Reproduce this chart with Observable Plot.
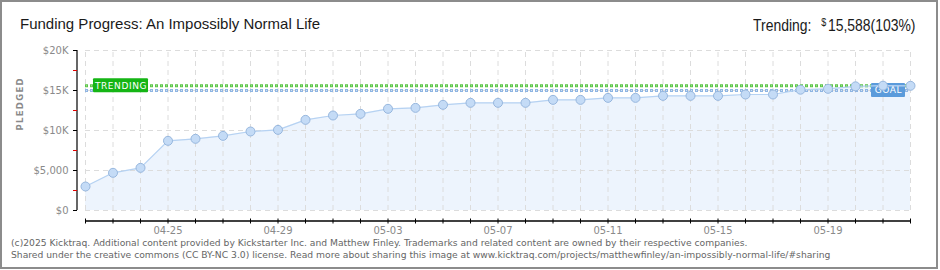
<!DOCTYPE html>
<html><head><meta charset="utf-8">
<script src="https://cdn.jsdelivr.net/npm/d3@7"></script>
<script src="https://cdn.jsdelivr.net/npm/@observablehq/plot@0.6"></script>
<style>
html,body{margin:0;padding:0;background:#fff;}
#wrap{position:relative;width:940px;height:270px;overflow:hidden;background:#fff;}
#border{position:absolute;left:0;top:0;width:938px;height:269px;border:2px solid #8c8c8c;box-sizing:border-box;pointer-events:none;}
#title{position:absolute;left:20px;top:14px;font-family:"Liberation Sans";font-size:15px;line-height:20px;color:#1a1a1a;white-space:nowrap;}
#trend{position:absolute;left:753px;top:12px;font-family:"Liberation Sans";font-size:17px;line-height:20px;color:#1a1a1a;white-space:nowrap;transform:scaleX(0.82);transform-origin:0 0;}
#trend .cur{font-size:11px;vertical-align:5px;margin-left:12px;margin-right:2px;}
#footer{position:absolute;left:11px;top:237px;font-family:"DejaVu Sans";font-size:9.2px;line-height:12px;color:#666;white-space:nowrap;}
#chart{position:absolute;left:0;top:0;}
</style></head>
<body>
<div id="wrap">
  <div id="chart"></div>
  <div id="title">Funding Progress: An Impossibly Normal Life</div>
  <div id="trend">Trending:<span class="cur">$</span>15,588(103%)</div>
  <div id="footer">(c)2025 Kicktraq. Additional content provided by Kickstarter Inc. and Matthew Finley. Trademarks and related content are owned by their respective companies.<br>Shared under the creative commons (CC BY-NC 3.0) license. Read more about sharing this image at www.kicktraq.com/projects/matthewfinley/an-impossibly-normal-life/#sharing</div>
  <div id="border"></div>
</div>
<script>
const dates = ["2025-04-22","2025-04-23","2025-04-24","2025-04-25","2025-04-26","2025-04-27","2025-04-28","2025-04-29","2025-04-30",
  "2025-05-01","2025-05-02","2025-05-03","2025-05-04","2025-05-05","2025-05-06","2025-05-07","2025-05-08","2025-05-09","2025-05-10",
  "2025-05-11","2025-05-12","2025-05-13","2025-05-14","2025-05-15","2025-05-16","2025-05-17","2025-05-18","2025-05-19","2025-05-20",
  "2025-05-21","2025-05-22"];
const pledged = [3000, 4710, 5330, 8710, 8960, 9330, 9875, 10080, 11330, 11875, 12080, 12710, 12830, 13210, 13460, 13460,
  13460, 13830, 13830, 14080, 14080, 14330, 14330, 14330, 14500, 14500, 15100, 15210, 15520, 15600, 15588];
const goal = 15000;
const trending = 15588;
const yTicks = [0, 5000, 10000, 15000, 20000];
const yTickLabels = ["$0", "$5,000", "$10K", "$15K", "$20K"];
const yMinorTicks = [2500, 7500, 12500, 17500];
const xTickLabels = ["04-25", "04-29", "05-03", "05-07", "05-11", "05-15", "05-19"];

const data = dates.map((d, i) => ({date: new Date(d), value: pledged[i]}));
const dayDates = data.map(d => d.date);
const first = dayDates[0], last = dayDates[dayDates.length - 1];
const fmt = d3.utcFormat("%m-%d");

const plot = Plot.plot({
  width: 940, height: 270,
  marginLeft: 85, marginRight: 30, marginTop: 50, marginBottom: 60,
  x: {type: "utc", domain: [first, last]},
  y: {domain: [0, 20000]},
  style: {fontFamily: "DejaVu Sans", fontSize: "10px", color: "#8a8a8a", background: "transparent", overflow: "visible"},
  marks: [
    Plot.areaY(data, {x: "date", y: "value", fill: "#edf4fd"}),
    Plot.ruleX(dayDates, {y1: 0, y2: 20000, stroke: "#dcdcdc", strokeDasharray: "5,4"}),
    Plot.ruleY(yTicks, {x1: first, x2: last, stroke: "#dcdcdc", strokeDasharray: "5,4"}),
    Plot.ruleY([goal], {x1: first, x2: last, stroke: "#8fb5e2", strokeWidth: 3, strokeDasharray: "3,2"}),
    Plot.ruleY([goal], {x1: first, x2: last, stroke: "#cfe0f5", strokeWidth: 1, strokeDasharray: "1,4", strokeDashoffset: -1}),
    Plot.ruleY([trending], {x1: first, x2: last, stroke: "#5cc548", strokeWidth: 3, strokeDasharray: "3,2"}),
    Plot.ruleY([trending], {x1: first, x2: last, stroke: "#a9e69c", strokeWidth: 1, strokeDasharray: "1,4", strokeDashoffset: -1}),
    Plot.rect([trending], {x1: () => first, x2: () => first, y1: d => d, y2: d => d,
      insetLeft: 8, insetRight: -63, insetTop: -7, insetBottom: -7, fill: "#15b515", rx: 1}),
    Plot.text([trending], {x: () => first, y: d => d, text: () => "TRENDING", dx: 35.5, fill: "#fff",
      fontSize: 9, fontFamily: "DejaVu Sans", className: "lbl"}),
    Plot.rect([goal], {x1: () => last, x2: () => last, y1: d => d, y2: d => d,
      insetLeft: -39, insetRight: 5, insetTop: -7, insetBottom: -7, fill: "#5b9bdb", rx: 1}),
    Plot.text([goal], {x: () => last, y: d => d, text: () => "GOAL", dx: -22, fill: "#fff",
      fontSize: 9, fontFamily: "DejaVu Sans", className: "lbl"}),
    Plot.line(data, {x: "date", y: "value", stroke: "#b6d2f2", strokeWidth: 1.2}),
    Plot.dot(data, {x: "date", y: "value", r: 4.5, fill: "#c4dbf6", stroke: "#97b7de", strokeWidth: 1}),
    Plot.ruleX([first], {y1: 0, y2: 20000, dx: -8.5, stroke: "#000", strokeWidth: 1.2}),
    Plot.axisY({ticks: yTicks, tickSize: 4, tickPadding: 5, dx: -8, stroke: "#000",
      tickFormat: d => yTickLabels[yTicks.indexOf(d)], label: null}),
    Plot.axisY({ticks: yMinorTicks, tickSize: 4, tickPadding: 5, dx: -8, stroke: "#e00000",
      tickFormat: () => "", label: null}),
    Plot.ruleY([0], {x1: first, x2: last, dy: 10.5, stroke: "#000", strokeWidth: 1.5}),
    Plot.axisX({ticks: dayDates, tickSize: 5, tickPadding: 2.5, dy: 8.5, stroke: "#000",
      tickFormat: d => xTickLabels.includes(fmt(d)) ? fmt(d) : "", label: null}),
    Plot.text(["PLEDGED"], {frameAnchor: "left", rotate: -90, dx: -65, text: d => d, fill: "#8a8a8a",
      fontSize: 8.5, fontWeight: "bold", fontFamily: "DejaVu Sans", className: "ylab"})
  ]
});
d3.select(plot).selectAll(".ylab text").style("letter-spacing", "1.3px");
d3.select(plot).selectAll(".lbl text").style("letter-spacing", "0.6px");
document.getElementById("chart").appendChild(plot);
</script>
</body></html>
